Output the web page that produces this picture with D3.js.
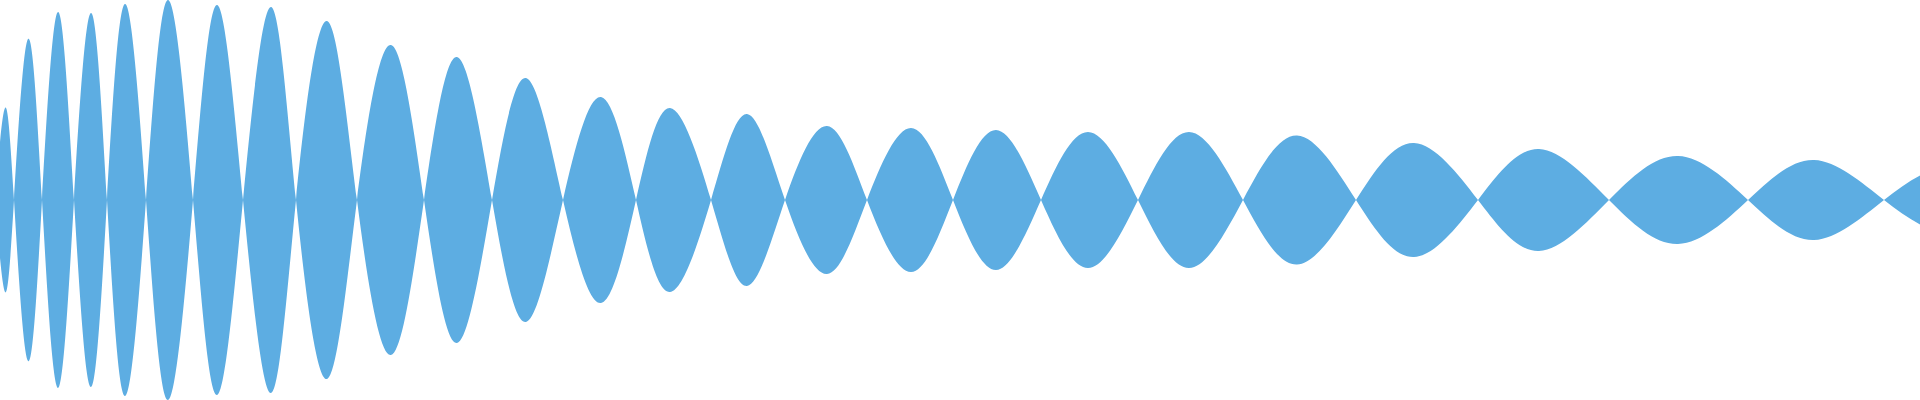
<!DOCTYPE html>
<html>
<head>
<meta charset="utf-8">
<script src="https://cdn.jsdelivr.net/npm/d3@7"></script>
<style>
  html, body { margin: 0; padding: 0; background: #ffffff; overflow: hidden; }
  svg { display: block; }
</style>
</head>
<body>
<div id="chart"></div>
<script>
// sample positions where the wave crosses zero
var zeroX = [-5, 14, 42, 74, 107, 146, 193, 243, 296, 357, 424, 492, 563, 636,
    711, 785, 867, 953, 1041, 1138, 1243, 1356, 1478, 1609, 1748, 1884, 2020];

// sample position of each lobe's peak, and its amplitude (full scale = 1)
var peakX = [5, 28, 58, 91, 125, 168, 217, 271, 327, 391, 457, 526, 601, 670,
    747, 827, 911, 996, 1088, 1189, 1297, 1414, 1539, 1678, 1814, 1952];
var peakAmp = [0.46, 0.805, 0.94, 0.935, 0.98, 1.0, 0.975, 0.965, 0.895, 0.775,
    0.715, 0.61, 0.515, 0.46, 0.43, 0.37, 0.36, 0.35, 0.34, 0.34, 0.3225,
    0.285, 0.255, 0.22, 0.20, 0.165];

var width = 1920;
var height = 400;

// signed wave: zero, +peak, zero, -peak, zero ...
var wave = [];
for (var i = 0; i < peakX.length; i++) {
    wave.push({ x: zeroX[i], v: 0 });
    var sign = i % 2 == 0 ? 1 : -1;
    wave.push({ x: peakX[i], v: sign * peakAmp[i] });
}
wave.push({ x: zeroX[zeroX.length - 1], v: 0 });

var x = d3.scaleLinear().domain([0, 1920]).range([0, width]);
var y = d3.scaleLinear().domain([-1, 1]).range([height, 0]);

var svg = d3.select("#chart").append("svg")
    .attr("width", width)
    .attr("height", height);

var area = d3.area()
    .x(d => x(d.x))
    .y0(d => y(-d.v))
    .y1(d => y(d.v))
    .curve(d3.curveNatural);

svg.append("path")
    .datum(wave)
    .attr("d", area)
    .attr("fill", "#5dade2")
    .attr("stroke", "none");
</script>
</body>
</html>
